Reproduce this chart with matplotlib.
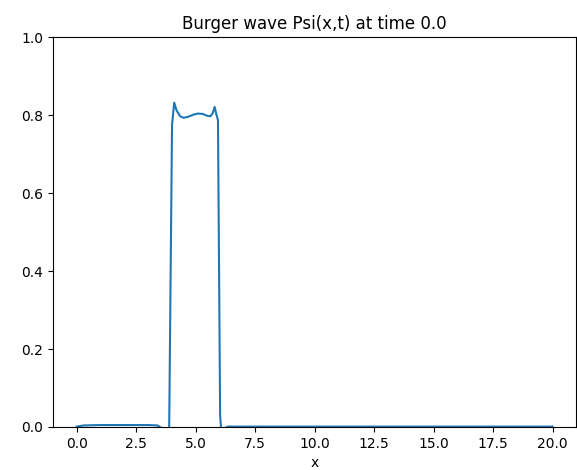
import matplotlib
matplotlib.use("Agg")
import matplotlib.pyplot as plt

x_vals = [0.0, 0.3, 1.0, 2.0, 3.0, 3.4, 3.55, 3.75, 3.89, 4.01, 4.10, 4.20,
          4.35, 4.50, 4.70, 4.90, 5.10, 5.30, 5.50, 5.62, 5.72, 5.80, 5.88,
          5.94, 6.03, 6.07, 6.2, 6.35, 8.0, 12.0, 16.0, 20.0]
psi_vals = [0.001, 0.004, 0.005, 0.005, 0.005, 0.004, -0.002, -0.004, -0.003,
            0.775, 0.832, 0.812, 0.797, 0.793, 0.796, 0.801, 0.804, 0.803,
            0.798, 0.797, 0.805, 0.821, 0.800, 0.787, 0.03, -0.003, -0.004,
            0.001, 0.001, 0.001, 0.001, 0.001]
time_val = 0.0

fig = plt.figure(figsize=(5.77, 4.70), dpi=100)
ax = fig.add_subplot(111)
fig.subplots_adjust(left=0.0915, right=0.999, top=0.921, bottom=0.0915)

ax.plot(x_vals, psi_vals)
ax.set_ylim(0, 1)
ax.set_xlabel("x")
ax.set_title("Burger wave Psi(x,t) at time {}".format(time_val))

fig.savefig("out.png", dpi=100)
